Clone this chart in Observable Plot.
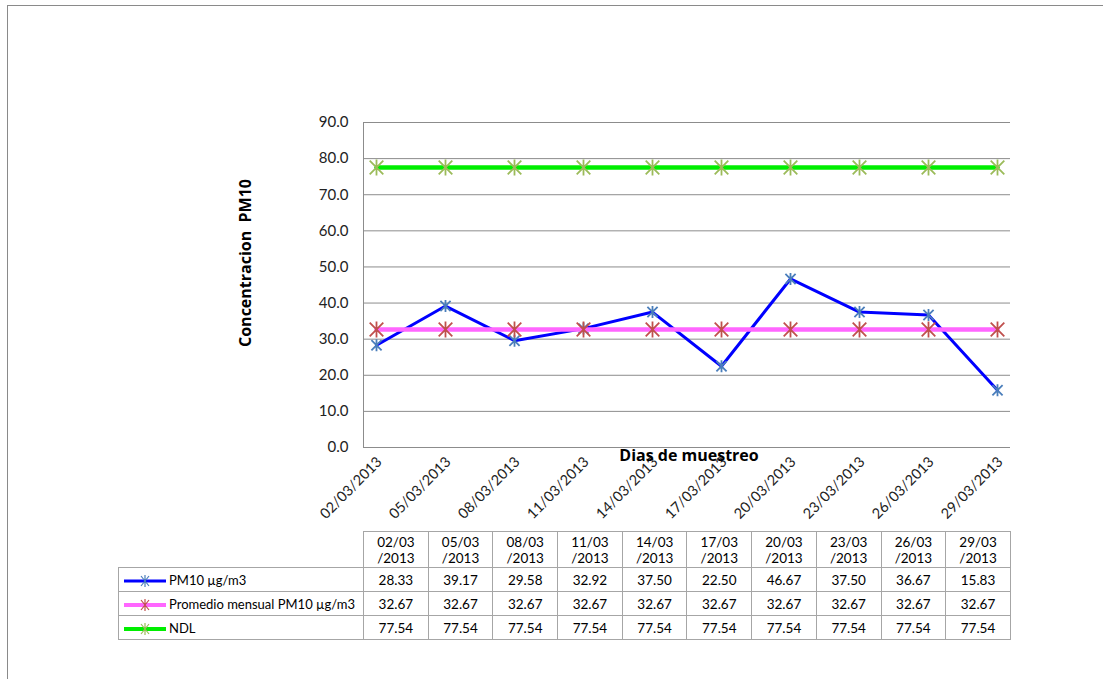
<!DOCTYPE html>
<html>
<head>
<meta charset="utf-8">
<script src="https://cdn.jsdelivr.net/npm/d3@7"></script>
<script src="https://cdn.jsdelivr.net/npm/@observablehq/plot@0.6"></script>
<style>
  html, body { margin: 0; padding: 0; background: #fff; }
  #wrap { position: relative; width: 1103px; height: 679px; overflow: hidden; font-family: Lato, "Open Sans", sans-serif; }
  #frame { position: absolute; left: 7px; top: 5px; width: 1200px; height: 800px; border-top: 1.5px solid #8a8a8a; border-left: 1.5px solid #8a8a8a; }
  #chart { position: absolute; left: 0; top: 0; }
  #ytitle { position: absolute; left: 245px; top: 263px; transform: translate(-50%, -50%) rotate(-90deg); font-family: "Open Sans", sans-serif; font-weight: bold; font-size: 16px; white-space: pre; color: #000; }
  #xtitle { position: absolute; left: 689px; top: 455px; transform: translate(-50%, -50%); font-family: "Open Sans", sans-serif; font-weight: bold; font-size: 16px; white-space: pre; color: #000; }
  #tbl { position: absolute; left: 118px; top: 531px; border-collapse: collapse; table-layout: fixed; font-size: 13.5px; color: #000; }
  #tbl td { border: 1px solid #a6a6a6; text-align: center; padding: 0; }
  #tbl tr.h td { height: 35px; line-height: 16px; }
  #tbl tr.d td { height: 23px; }
  #tbl td.blank { border-top: none; border-left: none; }
  #tbl td.key { text-align: left; padding-left: 4px; white-space: nowrap; font-size: 13px; }
  #tbl td.key svg { vertical-align: middle; margin-right: 2px; }
</style>
</head>
<body>
<div id="wrap">
  <div id="frame"></div>
  <div id="chart"></div>
  <div id="ytitle">Concentracion  PM10</div>
  <div id="xtitle">Dias de muestreo</div>
  <table id="tbl"></table>
</div>
<script>
const dates = ["02/03/2013","05/03/2013","08/03/2013","11/03/2013","14/03/2013","17/03/2013","20/03/2013","23/03/2013","26/03/2013","29/03/2013"];
const pm10 = [28.33, 39.17, 29.58, 32.92, 37.50, 22.50, 46.67, 37.50, 36.67, 15.83];
const promedio = [32.67, 32.67, 32.67, 32.67, 32.67, 32.67, 32.67, 32.67, 32.67, 32.67];
const ndl = [77.54, 77.54, 77.54, 77.54, 77.54, 77.54, 77.54, 77.54, 77.54, 77.54];
const yTicks = [0, 10, 20, 30, 40, 50, 60, 70, 80, 90];
const seriesNames = ["PM10 µg/m3", "Promedio mensual PM10 µg/m3", "NDL"];
const lineColors = ["#0000ff", "#ff66ff", "#00ee00"];
const markerColors = ["#4a7ebb", "#c0504d", "#9bbb59"];

const star = {
  draw(context, size) {
    const r = Math.sqrt(size / Math.PI);
    context.moveTo(-r * 0.85, -r * 0.85); context.lineTo(r * 0.85, r * 0.85);
    context.moveTo(-r * 0.85, r * 0.85); context.lineTo(r * 0.85, -r * 0.85);
    context.moveTo(0, -r); context.lineTo(0, r);
  }
};

const rows = (vals) => dates.map((d, i) => ({date: d, v: vals[i]}));
const all = [pm10, promedio, ndl];

const marks = [
  Plot.gridY(yTicks, {stroke: "#8c8c8c", strokeOpacity: 1, strokeWidth: 1}),
  Plot.frame({anchor: "left", stroke: "#8c8c8c"}),
  Plot.axisY(yTicks, {tickSize: 0, tickPadding: 15, fontSize: 15, tickFormat: d => d.toFixed(1), fill: "#222", label: null}),
  Plot.axisX({tickSize: 0, tickPadding: 12, tickRotate: -45, fontSize: 14.5, fill: "#222", label: null, dx: 3})
];
all.forEach((vals, k) => {
  marks.push(Plot.line(rows(vals), {x: "date", y: "v", stroke: lineColors[k], strokeWidth: k === 0 ? 3 : 4.5}));
  marks.push(Plot.dot(rows(vals), {x: "date", y: "v", symbol: star, r: k === 0 ? 6 : 8, stroke: markerColors[k], fill: "none", strokeWidth: 1.8}));
});

const chart = Plot.plot({
  width: 1103,
  height: 530,
  marginLeft: 363,
  marginRight: 93,
  marginTop: 122,
  marginBottom: 83,
  style: {fontFamily: "Lato, 'Open Sans', sans-serif", background: "transparent", color: "#222"},
  x: {type: "point", domain: dates, padding: 0.18},
  y: {domain: [0, 90]},
  marks
});
document.getElementById("chart").appendChild(chart);

// data table
const tbl = document.getElementById("tbl");
const colg = document.createElement("colgroup");
const c0 = document.createElement("col"); c0.style.width = "245px"; colg.appendChild(c0);
dates.forEach(() => { const c = document.createElement("col"); c.style.width = "64.7px"; colg.appendChild(c); });
tbl.appendChild(colg);
const hr = document.createElement("tr"); hr.className = "h";
const blank = document.createElement("td"); blank.className = "blank"; hr.appendChild(blank);
dates.forEach(d => {
  const td = document.createElement("td");
  td.innerHTML = d.slice(0, 5) + "<br>" + d.slice(5);
  hr.appendChild(td);
});
tbl.appendChild(hr);
all.forEach((vals, k) => {
  const tr = document.createElement("tr"); tr.className = "d";
  const key = document.createElement("td"); key.className = "key";
  const sw = Math.round(k === 0 ? 3 : 4);
  key.innerHTML = `<svg width="44" height="12"><line x1="1" y1="6" x2="43" y2="6" stroke="${lineColors[k]}" stroke-width="${sw}"/>` +
    `<path d="M18,1 L26,11 M18,11 L26,1 M22,0 L22,12" stroke="${markerColors[k]}" stroke-width="1.2" fill="none"/></svg>` + seriesNames[k];
  tr.appendChild(key);
  vals.forEach(v => { const td = document.createElement("td"); td.textContent = v.toFixed(2); tr.appendChild(td); });
  tbl.appendChild(tr);
});
</script>
</body>
</html>
